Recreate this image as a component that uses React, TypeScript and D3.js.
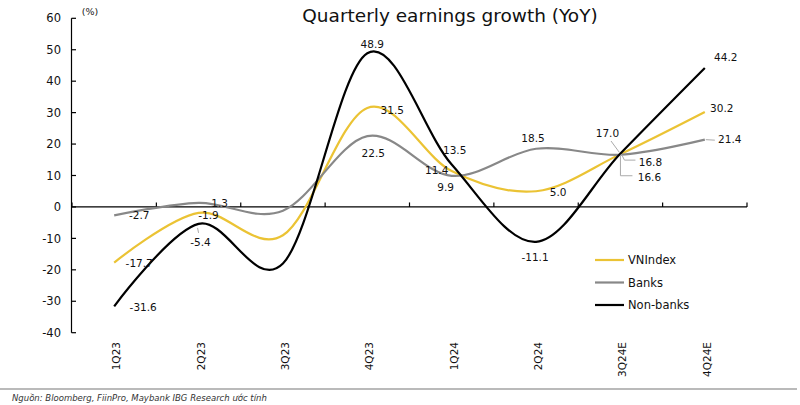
import React from "react";
import * as d3 from "d3";

const categories = ["1Q23", "2Q23", "3Q23", "4Q23", "1Q24", "2Q24", "3Q24E", "4Q24E"];
const vnindex = [-17.7, -1.9, -9.0, 31.5, 11.4, 5.0, 16.8, 30.2];
const banks = [-2.7, 1.3, -1.2, 22.5, 9.9, 18.5, 16.6, 21.4];
const nonBanks = [-31.6, -5.4, -18.0, 48.9, 13.5, -11.1, 17.0, 44.2];
const yTicks = [-40, -30, -20, -10, 0, 10, 20, 30, 40, 50, 60];
const seriesNames = ["VNIndex", "Banks", "Non-banks"];
// which points get a data label (3Q23 has none)
const labelled = [true, true, false, true, true, true, true, true];

// label offsets in pixels relative to the point (style, not data)
const offVN: [number, number][] = [[25, 1], [10, 2], [0, 0], [25, 2], [-15, -1], [22, 1], [30, 8], [17, -4]];
const offBanks: [number, number][] = [[25, 0], [21, 0], [0, 0], [6, 17], [-6, 11], [-3, -11], [29, 22], [25, 0]];
const offNB: [number, number][] = [[29, 1], [2, 18], [0, 0], [5, -9], [3, -14], [-1, 15], [-13, -20], [21, -11]];

const W = 800;
const H = 405;
const colors = ["#EBC334", "#888888", "#000000"];

export default function App() {
  const x = d3.scaleBand<string>().domain(categories).range([72, 747]).padding(0);
  const cx = (c: string) => (x(c) as number) + x.bandwidth() / 2;
  const y = d3.scaleLinear().domain([-40, 60]).range([332.7, 18.3]);

  const line = d3
    .line<number>()
    .x((_, i) => cx(categories[i]))
    .y((d) => y(d))
    .curve(d3.curveCardinal.tension(0));

  const series = [vnindex, banks, nonBanks];
  const offsets = [offVN, offBanks, offNB];
  const font = "DejaVu Sans, Verdana, sans-serif";
  const bandEdges = categories.map((c) => x(c) as number).concat([747]);
  const p3 = cx("3Q24E");

  return (
    <svg width={W} height={H} style={{ position: "absolute", left: 0, top: 0, background: "#fff" }} fontFamily={font}>
      <rect x={0} y={0} width={W} height={H} fill="#fff" />
      <text x={450} y={22} textAnchor="middle" fontSize={18.5} fill="#111">
        Quarterly earnings growth (YoY)
      </text>
      <text x={90} y={15} textAnchor="middle" fontSize={9.5} fill="#222">(%)</text>

      {/* y axis */}
      <line x1={71.5} x2={71.5} y1={y(60)} y2={y(-40)} stroke="#000" strokeWidth={1.2} />
      {yTicks.map((t) => (
        <g key={t}>
          <line x1={71.5} x2={76} y1={y(t)} y2={y(t)} stroke="#000" strokeWidth={1.2} />
          <text x={61} y={y(t)} dy="0.36em" textAnchor="end" fontSize={11.5} fill="#111">
            {t}
          </text>
        </g>
      ))}

      {/* x axis at zero */}
      <line x1={71.5} x2={747} y1={y(0)} y2={y(0)} stroke="#000" strokeWidth={1.2} />
      {bandEdges.map((e, i) => (
        <line key={i} x1={e} x2={e} y1={y(0)} y2={y(0) - 4.5} stroke="#000" strokeWidth={1.2} />
      ))}
      {categories.map((c) => (
        <text
          key={c}
          transform={`translate(${cx(c) + 6},342) rotate(-90)`}
          textAnchor="end"
          fontSize={10.5}
          fill="#111"
        >
          {c}
        </text>
      ))}

      {/* lines */}
      {series.map((s, k) => (
        <path key={k} d={line(s) || ""} fill="none" stroke={colors[k]} strokeWidth={2.2} />
      ))}

      {/* leader lines */}
      <line x1={p3 - 1} y1={y(17) - 1} x2={611} y2={141} stroke="#aaa" strokeWidth={1} />
      <polyline points={`${p3 + 1},${y(16.8)} ${p3 + 4},${y(16.8) + 6} ${p3 + 15},${y(16.8) + 6}`} fill="none" stroke="#aaa" strokeWidth={1} />
      <polyline points={`${p3},${y(16.6)} ${p3},${y(16.6) + 21} ${p3 + 12},${y(16.6) + 21}`} fill="none" stroke="#aaa" strokeWidth={1} />
      <line x1={cx("4Q24E") + 1} y1={y(21.4)} x2={cx("4Q24E") + 10} y2={y(21.4) + 0.5} stroke="#aaa" strokeWidth={1} />
      <line x1={cx("2Q23") - 1} y1={y(-5.4) + 4} x2={cx("2Q23")} y2={y(-5.4) + 9} stroke="#aaa" strokeWidth={1} />

      {/* data labels */}
      {series.map((s, k) =>
        s.map((v, i) =>
          labelled[i] ? (
            <text
              key={`${k}-${i}`}
              x={cx(categories[i]) + offsets[k][i][0]}
              y={y(v) + offsets[k][i][1]}
              dy="0.36em"
              textAnchor="middle"
              fontSize={10.5}
              fill="#111"
            >
              {v.toFixed(1)}
            </text>
          ) : null
        )
      )}

      {/* legend */}
      {seriesNames.map((n, k) => (
        <g key={n} transform={`translate(595,${260 + k * 22.5})`}>
          <line x1={0} x2={29} y1={0} y2={0} stroke={colors[k]} strokeWidth={2.2} />
          <text x={33} y={0} dy="0.36em" fontSize={11.5} fill="#111">
            {n}
          </text>
        </g>
      ))}

      {/* footer */}
      <line x1={0} x2={797} y1={389} y2={389} stroke="#777" strokeWidth={1.2} />
      <text x={12} y={401} fontSize={8.5} fontStyle="italic" fill="#333">
        Nguồn: Bloomberg, FiinPro, Maybank IBG Research ước tính
      </text>
    </svg>
  );
}
